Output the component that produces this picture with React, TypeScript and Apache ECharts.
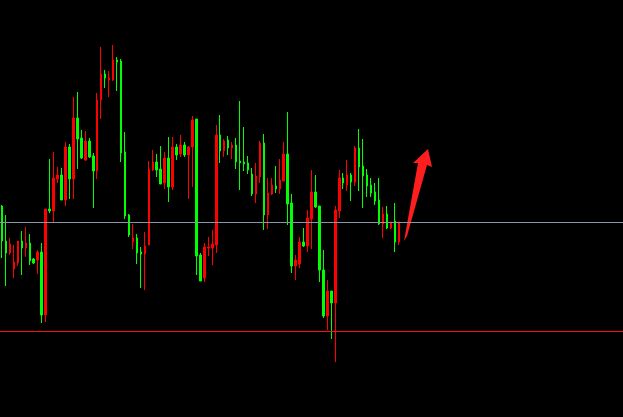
import React, { useEffect, useRef } from "react";
import * as echarts from "echarts";

// Candle values (index = bar number)
const openValues = [
  211, 176, 164, 148, 154, 176, 169, 174, 158, 157, 165, 102, 208, 206, 238, 242, 217, 270, 238, 299,
  279, 257, 276, 261, 246, 317, 343, 337, 337, 357, 356, 265, 202, 175, 179, 165, 163, 172, 247, 255,
  248, 234, 259, 230, 270, 263, 272, 262, 270, 298, 162, 139, 169, 169, 172, 282, 266, 277, 269, 272,
  256, 255, 254, 243, 223, 240, 274, 202, 223, 231, 228, 236, 263, 214, 151, 153, 175, 171, 198, 225,
  211, 147, 101, 126, 114, 206, 239, 232, 242, 235, 269, 251, 242, 232, 225, 217, 193, 203, 189, 196,
  175,
];
const closeValues = [
  176, 164, 173, 155, 176, 169, 174, 156, 154, 165, 102, 208, 206, 239, 242, 217, 270, 238, 299, 278,
  259, 276, 260, 246, 317, 343, 339, 339, 357, 355, 264, 201, 182, 179, 164, 163, 171, 248, 255, 247,
  233, 259, 230, 270, 262, 272, 262, 270, 297, 161, 136, 170, 170, 173, 282, 266, 276, 269, 272, 255,
  254, 253, 247, 223, 241, 274, 202, 224, 232, 228, 237, 263, 213, 151, 157, 175, 171, 199, 225, 210,
  147, 101, 126, 114, 207, 239, 234, 242, 235, 269, 250, 241, 231, 224, 216, 193, 203, 189, 195, 175,
  195,
];
const lowValues = [
  159, 131, 162, 139, 151, 142, 160, 152, 153, 143, 94, 95, 204, 194, 234, 217, 211, 218, 218, 248,
  258, 256, 259, 209, 238, 298, 329, 320, 336, 326, 255, 198, 180, 168, 153, 129, 127, 172, 246, 240,
  233, 228, 215, 227, 257, 260, 260, 218, 230, 142, 136, 135, 161, 152, 164, 254, 260, 262, 258, 248,
  227, 246, 243, 221, 214, 234, 187, 188, 222, 224, 223, 236, 192, 144, 137, 149, 170, 165, 168, 209,
  135, 99, 87, 78, 55, 199, 228, 226, 216, 231, 226, 209, 220, 220, 212, 192, 179, 188, 188, 165,
  172,
];
const highValues = [
  212, 202, 179, 172, 176, 186, 190, 183, 159, 167, 174, 208, 258, 265, 250, 249, 275, 273, 320, 325,
  287, 286, 279, 264, 324, 370, 347, 346, 372, 360, 358, 285, 203, 193, 183, 170, 185, 256, 267, 263,
  271, 265, 280, 280, 273, 282, 275, 271, 301, 298, 164, 174, 180, 187, 292, 302, 278, 281, 275, 279,
  316, 290, 261, 249, 254, 276, 283, 239, 239, 251, 258, 275, 305, 223, 162, 180, 189, 207, 247, 242,
  211, 167, 137, 126, 211, 247, 244, 257, 244, 271, 288, 278, 248, 239, 234, 239, 210, 211, 195, 214,
  195,
];
// Empty slots to the right of the last bar
const EMPTY_SLOTS = 56;
const levelLines = [194.5, 85.5];

export default function App() {
  const ref = useRef<HTMLDivElement>(null);
  useEffect(() => {
    if (!ref.current) return;
    const chart = echarts.init(ref.current, null, { renderer: "svg" });
    const n = openValues.length + EMPTY_SLOTS;
    const cats = Array.from({ length: n }, (_, i) => String(i + 1));
    const data = openValues.map((o, i) => [o, closeValues[i], lowValues[i], highValues[i]]);
    chart.setOption({
      animation: false,
      backgroundColor: "#000000",
      grid: { left: -2.5, right: -2.5, top: 0, bottom: 0, containLabel: false },
      xAxis: {
        type: "category",
        data: cats,
        boundaryGap: true,
        axisLine: { show: false },
        axisTick: { show: false },
        axisLabel: { show: false },
        splitLine: { show: false },
      },
      yAxis: {
        type: "value",
        min: 0,
        max: 417,
        axisLine: { show: false },
        axisTick: { show: false },
        axisLabel: { show: false },
        splitLine: { show: false },
      },
      series: [
        {
          type: "candlestick",
          data,
          barWidth: 2,
          itemStyle: {
            color: "#ff0000",
            color0: "#00ff00",
            borderColor: "#ff0000",
            borderColor0: "#00ff00",
            borderWidth: 1,
          },
          markLine: {
            silent: true,
            symbol: ["none", "none"],
            label: { show: false },
            data: [
              { yAxis: levelLines[0], lineStyle: { color: "#8a96a6", width: 1, type: "solid" } },
              { yAxis: levelLines[1], lineStyle: { color: "#ff1010", width: 1, type: "solid" } },
            ],
          },
        },
      ],
      graphic: [
        {
          type: "polygon",
          silent: true,
          shape: {
            points: [
              [404, 241],
              [418, 163],
              [413, 163],
              [428, 149],
              [432, 167],
              [427, 165],
              [407, 236],
            ],
          },
          style: { fill: "#ff1e1e" },
        },
      ],
    });
    return () => chart.dispose();
  }, []);
  return (
    <div
      ref={ref}
      style={{ position: "fixed", left: 0, top: 0, width: 623, height: 417 }}
    />
  );
}
